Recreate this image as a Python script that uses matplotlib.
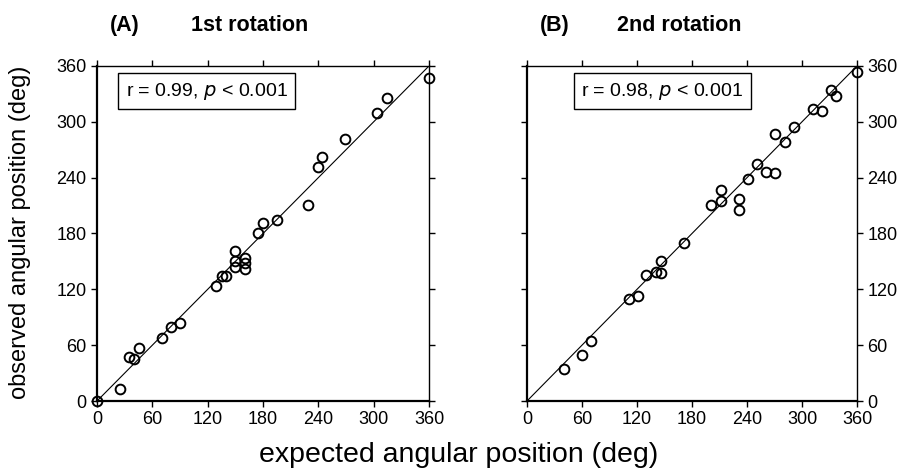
import matplotlib.pyplot as plt

plt.rcParams['font.family'] = ['Liberation Sans', 'DejaVu Sans']

# panel A: 1st rotation
exp_a = [0, 25, 35, 40, 46, 70, 80, 90, 129, 135, 140, 150, 150, 150,
         160, 160, 160, 175, 180, 195, 229, 240, 244, 269, 304, 314, 360]
obs_a = [0, 13, 47, 45, 57, 68, 80, 84, 124, 134, 134, 161, 150, 144,
         154, 148, 142, 180, 191, 194, 211, 251, 262, 281, 310, 326, 347]

# panel B: 2nd rotation
exp_b = [40, 60, 70, 111, 121, 130, 141, 146, 146, 171, 201, 212, 212,
         231, 231, 241, 251, 261, 271, 271, 281, 291, 312, 322, 332, 337, 360]
obs_b = [34, 49, 64, 110, 113, 135, 139, 138, 150, 170, 211, 227, 215,
         217, 205, 239, 255, 246, 245, 287, 278, 294, 314, 312, 334, 328, 353]

ticks = [0, 60, 120, 180, 240, 300, 360]
panels = [("(A)", "1st rotation", "r = 0.99, $p$ < 0.001", exp_a, obs_a, 0.33),
          ("(B)", "2nd rotation", "r = 0.98, $p$ < 0.001", exp_b, obs_b, 0.41)]

fig = plt.figure(figsize=(9.11, 4.74), dpi=100)
ax_a = fig.add_axes([0.1065, 0.154, 0.3644, 0.7068])
ax_b = fig.add_axes([0.5785, 0.154, 0.3622, 0.7068])

for ax, (tag, title, stat, xs, ys, bx) in zip([ax_a, ax_b], panels):
    ax.plot([0, 360], [0, 360], color='black', lw=0.8)
    ax.plot(xs, ys, 'o', mfc='none', mec='black', ms=7, mew=1.4,
            clip_on=False)
    ax.set_xlim(0, 360)
    ax.set_ylim(0, 360)
    ax.set_xticks(ticks)
    ax.set_yticks(ticks)
    ax.tick_params(direction='out', length=4, width=1, labelsize=13,
                   top=True, right=True, bottom=True, left=True)
    for s in ax.spines.values():
        s.set_linewidth(1.0)
    ax.spines['bottom'].set_linewidth(1.6)
    ax.spines['left'].set_linewidth(1.6)
    ax.text(bx, 0.925, stat, transform=ax.transAxes, fontsize=14,
            ha='center', va='center',
            bbox=dict(boxstyle='square,pad=0.4', fc='white', ec='black', lw=1))
    ax.text(0.085, 1.12, tag, transform=ax.transAxes, fontsize=15.5,
            fontweight='bold', ha='center', va='center')
    ax.text(0.46, 1.12, title, transform=ax.transAxes, fontsize=15.5,
            fontweight='bold', ha='center', va='center')

ax_b.tick_params(labelleft=False, labelright=True)

fig.text(0.503, 0.04, "expected angular position (deg)", fontsize=20.5,
         ha='center', va='center')
fig.text(0.022, 0.51, "observed angular position (deg)", fontsize=17,
         ha='center', va='center', rotation=90)

fig.savefig('out.png', dpi=100)
